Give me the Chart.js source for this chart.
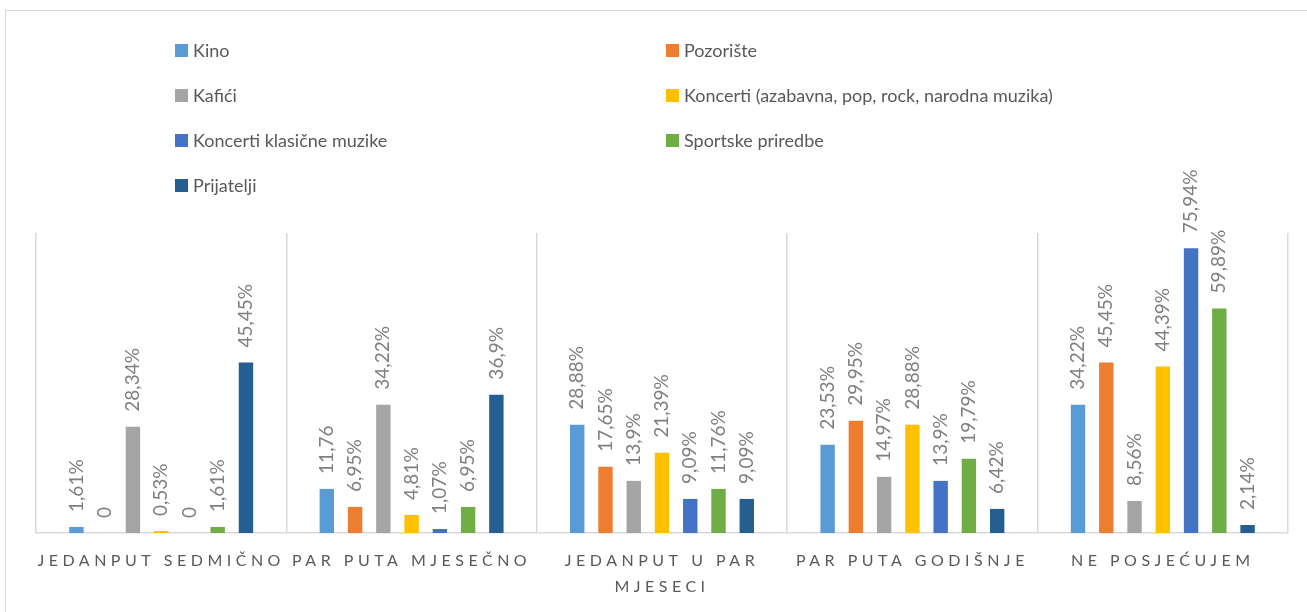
<!DOCTYPE html>
<html>
<head>
<meta charset="utf-8">
<script src="https://cdn.jsdelivr.net/npm/chart.js@4"></script>
<style>
  html, body { margin: 0; padding: 0; background: #fff; overflow: hidden; }
  #frame { position: absolute; left: 5px; top: 10px; width: 1320px; height: 620px; border: 1px solid #d9d9d9; box-sizing: border-box; }
  #wrap { position: absolute; left: 0; top: 0; width: 1307px; height: 612px; }
  #legend { position: absolute; left: 0; top: 0; width: 1307px; height: 220px; font-family: Lato, sans-serif; font-size: 18px; color: #595959; }
  .item { position: absolute; display: flex; align-items: center; white-space: nowrap; }
  .item span.box { display: inline-block; width: 13px; height: 13px; margin-right: 5px; }
</style>
</head>
<body>
<div id="frame"></div>
<div id="wrap"><canvas id="chart"></canvas></div>
<div id="legend"></div>
<script>
// categories (x axis)
const categories = [
    'JEDANPUT SEDMIČNO',
    'PAR PUTA MJESEČNO',
    ['JEDANPUT U PAR', 'MJESECI'],
    'PAR PUTA GODIŠNJE',
    'NE POSJEĆUJEM'
];

// series, in %
const seriesNames = [
    'Kino',
    'Pozorište',
    'Kafići',
    'Koncerti (azabavna, pop, rock, narodna muzika)',
    'Koncerti klasične muzike',
    'Sportske priredbe',
    'Prijatelji'
];
const kino = [1.61, 11.76, 28.88, 23.53, 34.22];
const pozoriste = [0, 6.95, 17.65, 29.95, 45.45];
const kafici = [28.34, 34.22, 13.9, 14.97, 8.56];
const koncerti = [0.53, 4.81, 21.39, 28.88, 44.39];
const klasicna = [0, 1.07, 9.09, 13.9, 75.94];
const sportske = [1.61, 6.95, 11.76, 19.79, 59.89];
const prijatelji = [45.45, 36.9, 9.09, 6.42, 2.14];

const colors = ['#5B9BD5', '#ED7D31', '#A5A5A5', '#FFC000', '#4472C4', '#70AD47', '#255E91'];

// the one label in the source without a % sign (series index, category index)
const noPercent = ['0-1'];

const allSeries = [kino, pozoriste, kafici, koncerti, klasicna, sportske, prijatelji];

function labelText(v, di, i) {
    if (v === 0) return '0';
    const s = String(v).replace('.', ',');
    return noPercent.includes(di + '-' + i) ? s : s + '%';
}

// html legend, two columns like the original
function renderLegend() {
    const container = document.getElementById('legend');
    const colX = [175, 666];
    const rowY = [50, 95, 140, 185];
    seriesNames.forEach((name, i) => {
        const div = document.createElement('div');
        div.className = 'item';
        div.style.left = colX[i % 2] + 'px';
        div.style.top = (rowY[Math.floor(i / 2)] - 12) + 'px';
        div.style.height = '24px';
        div.innerHTML = `<span class="box" style="background:${colors[i]}"></span>${name}`;
        container.appendChild(div);
    });
}

const valueLabels = {
    id: 'valueLabels',
    afterDatasetsDraw(chart) {
        const ctx = chart.ctx;
        ctx.save();
        ctx.font = '19px Lato';
        ctx.fillStyle = '#7f7f7f';
        ctx.textAlign = 'left';
        ctx.textBaseline = 'middle';
        chart.data.datasets.forEach((ds, di) => {
            const meta = chart.getDatasetMeta(di);
            meta.data.forEach((bar, i) => {
                ctx.save();
                ctx.translate(bar.x, bar.y - 15);
                ctx.rotate(-Math.PI / 2);
                ctx.fillText(labelText(ds.data[i], di, i), 0, 0);
                ctx.restore();
            });
        });
        ctx.restore();
    }
};

// spaced-out capitals on the category axis
const spacedTicks = {
    id: 'spacedTicks',
    beforeDraw(chart) {
        const x = chart.scales.x;
        if (x._spaced) return;
        const orig = x.drawLabels;
        x.drawLabels = function (area) {
            const c = this.ctx;
            c.save();
            c.letterSpacing = '4.5px';
            orig.call(this, area);
            c.restore();
        };
        x._spaced = true;
    }
};

Chart.defaults.font.family = 'Lato';

const ctx = document.getElementById('chart').getContext('2d');
const chart = new Chart(ctx, {
    type: 'bar',
    data: {
        labels: categories,
        datasets: allSeries.map((data, i) => ({
            label: seriesNames[i],
            data: data,
            backgroundColor: colors[i],
            barPercentage: 0.51,
            categoryPercentage: 0.79
        }))
    },
    options: {
        responsive: true,
        maintainAspectRatio: false,
        animation: false,
        layout: { padding: { left: 36, right: 19, top: 233, bottom: 0 } },
        plugins: {
            legend: { display: false },
            tooltip: { enabled: false }
        },
        scales: {
            x: {
                grid: { color: '#d9d9d9', lineWidth: 1.5, drawTicks: false, offset: true },
                border: { color: '#d9d9d9', width: 1.5 },
                ticks: {
                    color: '#595959',
                    font: { size: 16, lineHeight: '26px' },
                    padding: 15,
                    maxRotation: 0,
                    autoSkip: false
                },
                afterFit: s => { s.height = 79; }
            },
            y: { display: false, min: 0, max: 80 }
        }
    },
    plugins: [valueLabels, spacedTicks]
});

renderLegend();
</script>
</body>
</html>
